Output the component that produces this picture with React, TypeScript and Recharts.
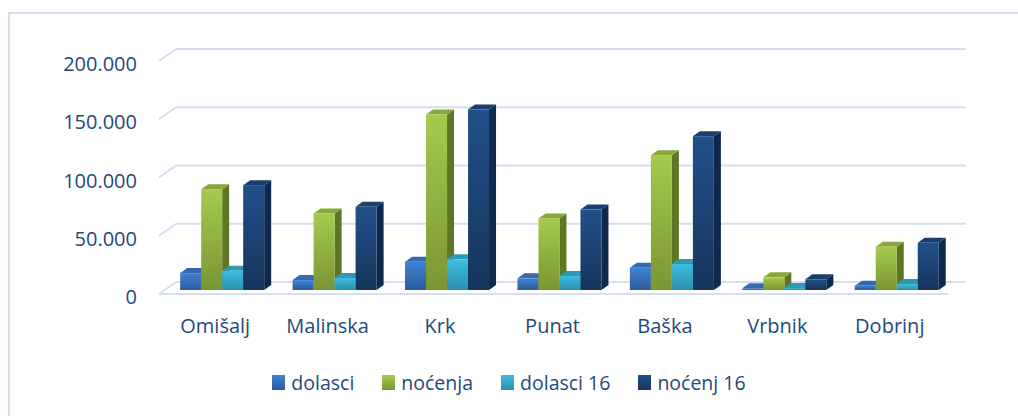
import React from "react";
import { BarChart, Bar, XAxis, YAxis, CartesianGrid, Legend } from "recharts";

const categories = ["Omišalj", "Malinska", "Krk", "Punat", "Baška", "Vrbnik", "Dobrinj"];
const dolasci = [14500, 8500, 24300, 10000, 19000, 1500, 3700];
const nocenja = [86500, 65700, 150600, 61400, 115700, 10900, 37100];
const dolasci16 = [16500, 10300, 26300, 12000, 22300, 1800, 5100];
const nocenj16 = [90000, 71400, 154900, 69000, 132000, 9200, 40500];
const yTicks = [0, 50000, 100000, 150000, 200000];

const TEXT = "#1F497D";
const GRID = "#D3DFF0";

// 3D look: depth offset of top / side faces
const DX = 7;
const DY = 5;

const series = [
  { key: "dolasci", name: "dolasci", front: ["#4082D4", "#2C5B9A"], side: "#244B80", top: "#3569B0" },
  { key: "nocenja", name: "noćenja", front: ["#A6CA4C", "#7A9633"], side: "#5F7626", top: "#88A83B" },
  { key: "dolasci16", name: "dolasci 16", front: ["#3EBDE0", "#2A8FAD"], side: "#1F7189", top: "#2E98B6" },
  { key: "nocenj16", name: "noćenj 16", front: ["#20508A", "#16355C"], side: "#10284A", top: "#1B3F6C" },
];

const data = categories.map((name, i) => ({
  name,
  dolasci: dolasci[i],
  nocenja: nocenja[i],
  dolasci16: dolasci16[i],
  nocenj16: nocenj16[i],
}));

const fmt = (v: number) => (v === 0 ? "0" : v.toLocaleString("de-DE"));

function box(idx: number) {
  const s = series[idx];
  return (p: any) => {
    const { x, y, width: w, height: h } = p;
    if (w == null || h == null) return <g />;
    return (
      <g>
        <polygon
          points={`${x + w},${y} ${x + w + DX},${y - DY} ${x + w + DX},${y + h - DY} ${x + w},${y + h}`}
          fill={s.side}
        />
        <polygon
          points={`${x},${y} ${x + DX},${y - DY} ${x + w + DX},${y - DY} ${x + w},${y}`}
          fill={s.top}
        />
        <rect x={x} y={y} width={w} height={h} fill={`url(#grad-${s.key})`} />
      </g>
    );
  };
}

const gridLine = (p: any) => {
  const { x1, x2, y1, index } = p;
  const isFloor = Math.abs(y1 - 290) < 2;
  return (
    <g key={`g-${index}`}>
      <line x1={x1 - 6} y1={y1 + 4} x2={x1 + 11} y2={y1 - 8} stroke={GRID} strokeWidth={1.8} />
      <line x1={x1 + 11} y1={y1 - 8} x2={x2 + 14} y2={y1 - 8} stroke={GRID} strokeWidth={1.8} />
      {isFloor && (
        <line x1={x1 - 6} y1={y1 + 4} x2={x2 - 4} y2={y1 + 4} stroke={GRID} strokeWidth={1.8} />
      )}
    </g>
  );
};

const YTick = (p: any) => (
  <text x={p.x} y={p.y + 14} textAnchor="end" fill={TEXT} fontSize={20}>
    {fmt(p.payload.value)}
  </text>
);

const XTick = (p: any) => (
  <text x={p.x - 6} y={p.y + 43} textAnchor="middle" fill={TEXT} fontSize={20}>
    {p.payload.value}
  </text>
);

const LegendBox = () => (
  <div style={{ display: "flex", justifyContent: "center", gap: 28, fontSize: 19.5, color: TEXT }}>
    {series.map((s) => (
      <div key={s.key} style={{ display: "flex", alignItems: "center", gap: 6 }}>
        <span
          style={{
            display: "inline-block",
            width: 13,
            height: 15,
            background: `linear-gradient(${s.front[0]}, ${s.front[1]})`,
          }}
        />
        <span>{s.name}</span>
      </div>
    ))}
  </div>
);

export default function App() {
  return (
    <div
      style={{
        position: "absolute",
        left: 0,
        top: 0,
        width: 1018,
        height: 416,
        background: "#fff",
        fontFamily: "'Open Sans', sans-serif",
        overflow: "hidden",
      }}
    >
      <div
        style={{
          position: "absolute",
          left: 8,
          top: 12,
          width: 1100,
          height: 500,
          borderTop: `2px solid ${GRID}`,
          borderLeft: `2px solid ${GRID}`,
        }}
      />
      <BarChart
        width={1018}
        height={416}
        data={data}
        margin={{ top: 57, right: 66, bottom: 96, left: 0 }}
        barCategoryGap="13.5%"
        barGap={0}
      >
        <defs>
          {series.map((s) => (
            <linearGradient key={s.key} id={`grad-${s.key}`} x1="0" y1="0" x2="0" y2="1">
              <stop offset="0%" stopColor={s.front[0]} />
              <stop offset="100%" stopColor={s.front[1]} />
            </linearGradient>
          ))}
        </defs>
        <CartesianGrid vertical={false} horizontal={gridLine} />
        <XAxis
          dataKey="name"
          height={30}
          axisLine={false}
          tickLine={false}
          tickSize={0}
          tickMargin={0}
          tick={<XTick />}
          interval={0}
        />
        <YAxis
          width={165}
          domain={[0, 200000]}
          ticks={yTicks}
          axisLine={false}
          tickLine={false}
          tickSize={0}
          tickMargin={28}
          tick={<YTick />}
        />
        <Legend
          layout="horizontal"
          verticalAlign="middle"
          align="center"
          content={<LegendBox />}
          wrapperStyle={{ position: "absolute", top: 369, left: 0, width: 1018 }}
        />
        {series.map((s, i) => (
          <Bar key={s.key} dataKey={s.key} name={s.name} shape={box(i)} isAnimationActive={false} />
        ))}
      </BarChart>
    </div>
  );
}
